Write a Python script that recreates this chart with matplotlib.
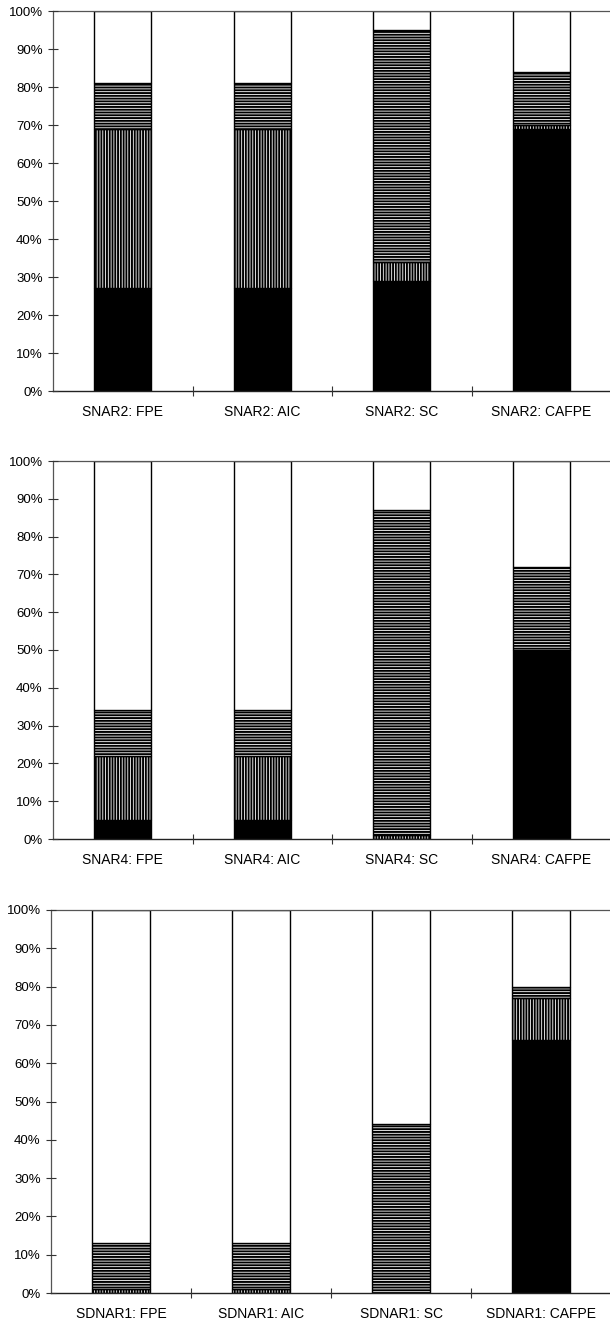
import matplotlib
matplotlib.use("Agg")
import matplotlib.pyplot as plt
import numpy as np
from matplotlib.ticker import FixedLocator, FuncFormatter

plt.rcParams["font.family"] = ["Liberation Sans", "DejaVu Sans"]
plt.rcParams["hatch.linewidth"] = 1.4

# Share (%) of each outcome class per model-selection criterion
snar2_labels = ["SNAR2: FPE", "SNAR2: AIC", "SNAR2: SC", "SNAR2: CAFPE"]
snar2_solid = [27, 27, 29, 69]
snar2_vertical = [42, 42, 5, 1]
snar2_horizontal = [12, 12, 61, 14]

snar4_labels = ["SNAR4: FPE", "SNAR4: AIC", "SNAR4: SC", "SNAR4: CAFPE"]
snar4_solid = [5, 5, 0, 50]
snar4_vertical = [17, 17, 1, 0]
snar4_horizontal = [12, 12, 86, 22]

sdnar1_labels = ["SDNAR1: FPE", "SDNAR1: AIC", "SDNAR1: SC", "SDNAR1: CAFPE"]
sdnar1_solid = [0, 0, 0, 66]
sdnar1_vertical = [1, 1, 0, 11]
sdnar1_horizontal = [12, 12, 44, 3]

yticks = [0, 10, 20, 30, 40, 50, 60, 70, 80, 90, 100]

panels = [
    (snar2_labels, snar2_solid, snar2_vertical, snar2_horizontal),
    (snar4_labels, snar4_solid, snar4_vertical, snar4_horizontal),
    (sdnar1_labels, sdnar1_solid, sdnar1_vertical, sdnar1_horizontal),
]

W, H = 610, 1328
fig = plt.figure(figsize=(W / 100, H / 100), dpi=100)

# axes boxes in pixels: (left, top, bottom)
boxes = [(53, 11, 391), (53, 461, 839), (51, 910, 1293)]
right_px = 611

for (labels, solid, vert, horiz), (lpx, tpx, bpx) in zip(panels, boxes):
    ax = fig.add_axes([lpx / W, 1 - bpx / H, (right_px - lpx) / W, (bpx - tpx) / H])
    x = np.arange(len(labels))
    solid = np.array(solid, float)
    vert = np.array(vert, float)
    horiz = np.array(horiz, float)
    blank = 100 - solid - vert - horiz
    width = 0.41
    kw = dict(width=width, edgecolor="black", linewidth=1.0)
    ax.bar(x, solid, color="black", **kw)
    ax.bar(x, vert, bottom=solid, color="white", hatch="||||||", **kw)
    ax.bar(x, horiz, bottom=solid + vert, color="white", hatch="------", **kw)
    ax.bar(x, blank, bottom=solid + vert + horiz, color="white", **kw)

    ax.set_xlim(-0.5, 3.5)
    ax.set_ylim(0, 100)

    ax.set_xticks(x)
    ax.set_xticklabels(labels, fontsize=10)
    ax.xaxis.set_minor_locator(FixedLocator([0.5, 1.5, 2.5]))
    ax.tick_params(axis="x", which="major", length=0, pad=10)
    ax.tick_params(axis="x", which="minor", direction="inout", length=7,
                   width=0.8, color="#333333")

    ax.set_yticks(yticks)
    ax.yaxis.set_major_formatter(FuncFormatter(lambda v, p: f"{int(v)}%"))
    ax.tick_params(axis="y", direction="inout", length=7, width=0.8,
                   color="#333333", labelsize=9.5, pad=4)

    ax.spines["right"].set_visible(False)
    ax.spines["top"].set_linestyle((0, (1, 1)))
    ax.spines["top"].set_color("#555555")
    ax.spines["top"].set_linewidth(0.9)
    ax.spines["left"].set_color("#555555")
    ax.spines["left"].set_linewidth(0.9)
    ax.spines["bottom"].set_color("#222222")
    ax.spines["bottom"].set_linewidth(1.0)
    ax.set_axisbelow(False)

fig.savefig("out.png", dpi=100, facecolor="white")
